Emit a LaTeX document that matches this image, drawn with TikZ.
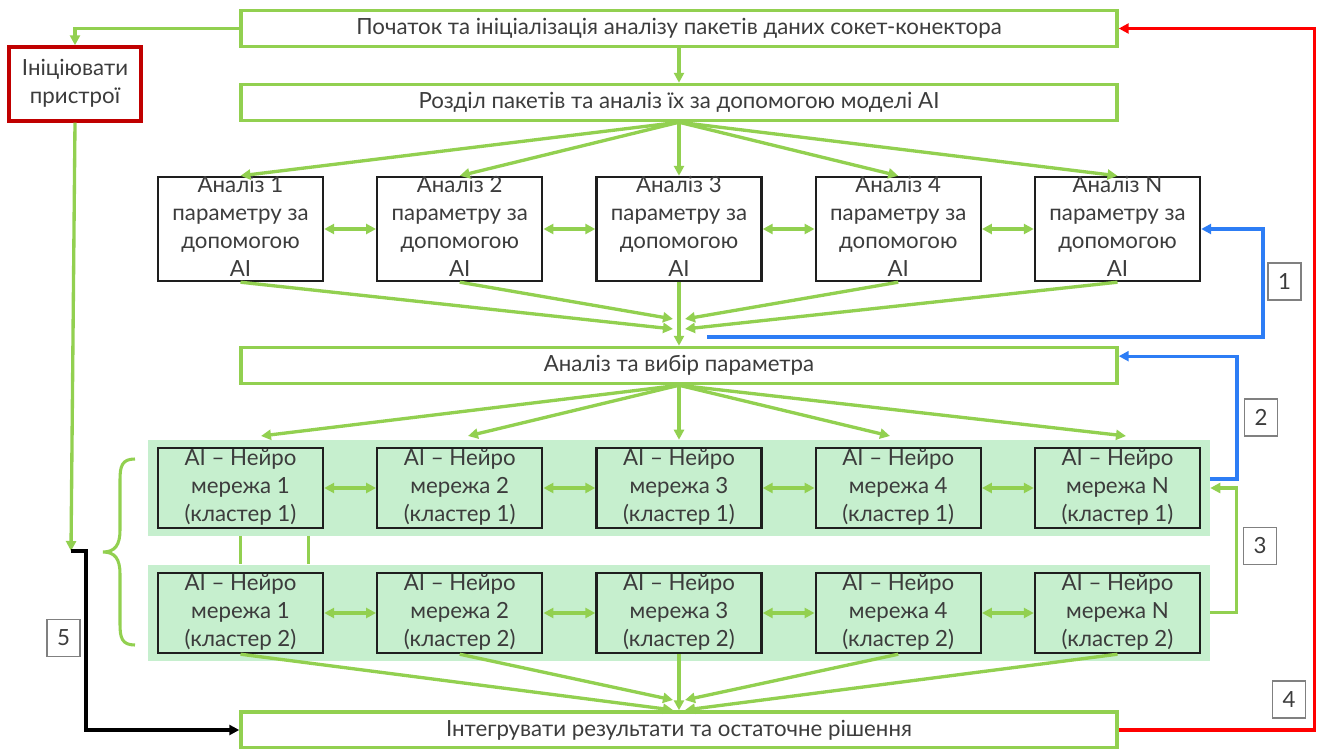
\documentclass[tikz,border=0pt]{standalone}
\usepackage{fontspec}
\setmainfont{Lato}
\usetikzlibrary{arrows.meta,calc}

\definecolor{boxgreen}{RGB}{146,208,80}
\definecolor{bandgreen}{RGB}{198,239,206}
\definecolor{initred}{RGB}{192,0,0}
\definecolor{loopred}{RGB}{255,0,0}
\definecolor{loopblue}{RGB}{45,125,245}
\definecolor{textgray}{RGB}{60,60,60}
\definecolor{taggray}{RGB}{128,128,128}
\definecolor{edgeblack}{RGB}{30,30,30}

\newcommand{\celltext}[1]{\smash{\raisebox{-4pt}{\begin{tabular}{@{}c@{}}#1\end{tabular}}}}

\tikzset{
  stagebox/.style={draw=boxgreen, line width=2.6pt, minimum width=657pt,
    minimum height=27pt, inner sep=0pt, text=textgray},
  initbox/.style={draw=initred, line width=2.6pt, minimum width=99pt,
    minimum height=55.5pt, inner sep=0pt, text=textgray},
  parambox/.style={draw=edgeblack, line width=1.8pt, minimum width=123.75pt,
    minimum height=78pt, inner sep=0pt, text=textgray},
  netbox/.style={draw=edgeblack, line width=1.8pt, minimum width=123.75pt,
    minimum height=60pt, inner sep=0pt, text=textgray},
  band/.style={fill=bandgreen, minimum width=796.5pt, minimum height=72pt,
    inner sep=0pt},
  tagbox/.style={draw=taggray, line width=0.8pt, minimum width=24.75pt,
    minimum height=27.75pt, inner sep=0pt, text=textgray},
  flow/.style={draw=boxgreen, line width=2.5pt,
    -{Triangle[length=7.5pt,width=7.5pt]}},
  twoway/.style={draw=boxgreen, line width=2.5pt,
    {Triangle[length=7.5pt,width=7.5pt]}-{Triangle[length=7.5pt,width=7.5pt]}},
  link/.style={draw=boxgreen, line width=2.3pt},
  blueflow/.style={draw=loopblue, line width=2.5pt,
    -{Triangle[length=7.5pt,width=7.5pt]}},
  redflow/.style={draw=loopred, line width=2.5pt,
    -{Triangle[length=7.5pt,width=7.5pt]}},
  blackflow/.style={draw=black, line width=2.5pt,
    -{Triangle[length=7.5pt,width=7.5pt]}}
}

\begin{document}
\begin{tikzpicture}[x=0.75pt, y=-0.75pt,
  every node/.style={font=\fontsize{16.7}{21}\selectfont}]
\useasboundingbox (0,0) rectangle (1322,749);

% First the green bands behind the clusters
\node[band] (band1) at (679,488) {};
\node[band] (band2) at (679,612.5) {};

% Now the main stages
\node[stagebox] (start) at (679,28.5) {Початок та ініціалізація аналізу пакетів даних сокет-конектора};
\node[stagebox] (split) at (679,102.5) {Розділ пакетів та аналіз їх за допомогою моделі AI};
\node[stagebox] (select) at (679,365.5) {Аналіз та вибір параметра};
\node[stagebox] (merge) at (679,730) {Інтегрувати результати та остаточне рішення};
\node[initbox] (init) at (75,84) {\celltext{Ініціювати\\пристрої}};

% Now the parameter boxes
\node[parambox] (par1) at (240.5,229) {\celltext{Аналіз 1\\параметру за\\допомогою\\AI}};
\node[parambox] (par2) at (459.75,229) {\celltext{Аналіз 2\\параметру за\\допомогою\\AI}};
\node[parambox] (par3) at (679,229) {\celltext{Аналіз 3\\параметру за\\допомогою\\AI}};
\node[parambox] (par4) at (898.25,229) {\celltext{Аналіз 4\\параметру за\\допомогою\\AI}};
\node[parambox] (par5) at (1117.5,229) {\celltext{Аналіз N\\параметру за\\допомогою\\AI}};

% Now the two clusters of networks
\node[netbox] (net11) at (240.5,488) {\celltext{AI – Нейро\\мережа 1\\(кластер 1)}};
\node[netbox] (net12) at (459.75,488) {\celltext{AI – Нейро\\мережа 2\\(кластер 1)}};
\node[netbox] (net13) at (679,488) {\celltext{AI – Нейро\\мережа 3\\(кластер 1)}};
\node[netbox] (net14) at (898.25,488) {\celltext{AI – Нейро\\мережа 4\\(кластер 1)}};
\node[netbox] (net15) at (1117.5,488) {\celltext{AI – Нейро\\мережа N\\(кластер 1)}};
\node[netbox] (net21) at (240.5,613) {\celltext{AI – Нейро\\мережа 1\\(кластер 2)}};
\node[netbox] (net22) at (459.75,613) {\celltext{AI – Нейро\\мережа 2\\(кластер 2)}};
\node[netbox] (net23) at (679,613) {\celltext{AI – Нейро\\мережа 3\\(кластер 2)}};
\node[netbox] (net24) at (898.25,613) {\celltext{AI – Нейро\\мережа 4\\(кластер 2)}};
\node[netbox] (net25) at (1117.5,613) {\celltext{AI – Нейро\\мережа N\\(кластер 2)}};

% Now the numbered tags
\node[tagbox] (tag1) at (1284.5,281.5) {1};
\node[tagbox] (tag2) at (1261,417.5) {2};
\node[tagbox] (tag3) at (1260,546) {3};
\node[tagbox] (tag4) at (1289,699.5) {4};
\node[tagbox] (tag5) at (63.5,638) {5};

% Points where the arrows meet
\coordinate (hubA1) at (673,329);
\coordinate (hubA2) at (673,319);
\coordinate (hubA4) at (685,319);
\coordinate (hubA5) at (685,329);
\coordinate (hubB1) at (673,710);
\coordinate (hubB2) at (673,700);
\coordinate (hubB4) at (685,700);
\coordinate (hubB5) at (685,710);
\coordinate (aim1) at (261,436);
\coordinate (aim2) at (468,436);
\coordinate (aim4) at (890,436);
\coordinate (aim5) at (1126,436);
\coordinate (joint) at (71,551);
\coordinate (back1) at (707,337);
\coordinate (back2) at (1210,479);

% Now the start and the devices
\draw[flow] (start) -- (split);
\draw[flow] (start.west) -| (init.north);
\draw[flow] (init.south) -- (joint);
\draw[blackflow] (joint) -- ++(15,0) |- (merge.west);

% Now the split into parameters
\draw[flow] (split.south) -- (par1.north);
\draw[flow] (split.south) -- (par2.north);
\draw[flow] (split.south) -- (par3.north);
\draw[flow] (split.south) -- (par4.north);
\draw[flow] (split.south) -- (par5.north);
\draw[twoway] (par1) -- (par2);
\draw[twoway] (par2) -- (par3);
\draw[twoway] (par3) -- (par4);
\draw[twoway] (par4) -- (par5);
\draw[flow] (par1.south) -- (hubA1);
\draw[flow] (par2.south) -- (hubA2);
\draw[flow] (par3.south) -- (select.north);
\draw[flow] (par4.south) -- (hubA4);
\draw[flow] (par5.south) -- (hubA5);

% Now the choice and the networks
\draw[flow] (select.south) -- (aim1);
\draw[flow] (select.south) -- (aim2);
\draw[flow] (select.south) -- (band1.north);
\draw[flow] (select.south) -- (aim4);
\draw[flow] (select.south) -- (aim5);
\draw[twoway] (net11) -- (net12);
\draw[twoway] (net12) -- (net13);
\draw[twoway] (net13) -- (net14);
\draw[twoway] (net14) -- (net15);
\draw[twoway] (net21) -- (net22);
\draw[twoway] (net22) -- (net23);
\draw[twoway] (net23) -- (net24);
\draw[twoway] (net24) -- (net25);
\draw[link] (net11.south |- band1.south) -- (net11.south |- band2.north);
\draw[link] ($(net11.south |- band1.south)+(68,0)$) -- ($(net11.south |- band2.north)+(68,0)$);
\draw[flow] (net21.south) -- (hubB1);
\draw[flow] (net22.south) -- (hubB2);
\draw[flow] (net23.south) -- (merge.north);
\draw[flow] (net24.south) -- (hubB4);
\draw[flow] (net25.south) -- (hubB5);

% the brace round both clusters
\draw[link] (135,459) .. controls (122,459) and (120,466) .. (120,480)
  -- (120,530) .. controls (120,545) and (115,552) .. (103,552)
  .. controls (115,552) and (120,559) .. (120,574)
  -- (120,624) .. controls (120,638) and (122,645) .. (135,645);

% Now the feedback loops
\draw[blueflow] (back1) -- (1263,337) |- (par5.east);
\draw[blueflow] (back2) -- (1237,479) |- ([yshift=7pt]select.east);
\draw[flow] (band2.east) -- ++(26,0) |- (band1.east);
\draw[redflow] (merge.east) -- ++(196,0) |- (start.east);
\end{tikzpicture}
\end{document}
